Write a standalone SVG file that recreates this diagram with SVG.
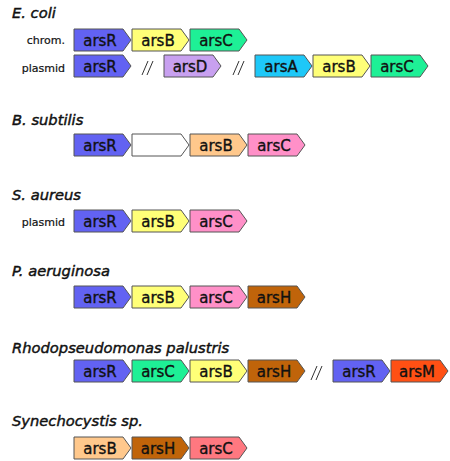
<svg xmlns="http://www.w3.org/2000/svg" width="450" height="461" viewBox="0 0 450 461">
<defs>
<style>
.g{stroke:#555;stroke-width:1}
.lbl{font-family:"DejaVu Sans",Verdana,sans-serif;font-size:15px;fill:#111;stroke:#111;stroke-width:0.35;text-anchor:middle}
.ttl{font-family:"DejaVu Sans",Verdana,sans-serif;font-size:14.7px;font-style:italic;fill:#111;stroke:#111;stroke-width:0.45}
.sm{font-family:"DejaVu Sans",Verdana,sans-serif;font-size:11px;fill:#111;stroke:#111;stroke-width:0.2;text-anchor:end}
.brk{stroke:#333;stroke-width:1;fill:none}
.R{fill:#6262f2}.B{fill:#ffff78}.Cg{fill:#1ef096}.D{fill:#c8a0f0}.A{fill:#1ec8f8}
.Bp{fill:#ffc88c}.Cp{fill:#ff90c8}.H{fill:#c0640a}.M{fill:#ff5014}.Cs{fill:#ff7880}.W{fill:#fff}
</style>
<polygon id="arrow" points="0,0 49,0 57,11 49,22 0,22"/>
</defs>
<rect width="450" height="461" fill="#fff"/>

<g id="titles">
<text class="ttl" x="12" y="18">E. coli</text>
<text class="ttl" x="12" y="125">B. subtilis</text>
<text class="ttl" x="12" y="200">S. aureus</text>
<text class="ttl" x="12" y="276">P. aeruginosa</text>
<text class="ttl" x="12" y="353">Rhodopseudomonas palustris</text>
<text class="ttl" x="12" y="426">Synechocystis sp.</text>
<text class="sm" x="65" y="44">chrom.</text>
<text class="sm" x="65" y="72">plasmid</text>
<text class="sm" x="65" y="226">plasmid</text>
</g>

<g id="connectors">
<path class="brk" d="M142,75 L148,61 M147,75 L153,61"/>
<path class="brk" d="M233,75 L239,61 M238,75 L244,61"/>
<path class="brk" d="M311,380 L317,366 M316,380 L322,366"/>
</g>

<!-- E. coli chromosome -->
<g id="ecoli-chr-arsR"><use href="#arrow" x="74" y="29" class="g R"/><text class="lbl" x="100" y="46">arsR</text></g>
<g id="ecoli-chr-arsB"><use href="#arrow" x="132" y="29" class="g B"/><text class="lbl" x="158" y="46">arsB</text></g>
<g id="ecoli-chr-arsC"><use href="#arrow" x="190" y="29" class="g Cg"/><text class="lbl" x="216" y="46">arsC</text></g>
<!-- E. coli plasmid -->
<g id="ecoli-pl-arsR"><use href="#arrow" x="74" y="55" class="g R"/><text class="lbl" x="100" y="72">arsR</text></g>
<g id="ecoli-pl-arsD"><use href="#arrow" x="164" y="55" class="g D"/><text class="lbl" x="190" y="72">arsD</text></g>
<g id="ecoli-pl-arsA"><use href="#arrow" x="255" y="55" class="g A"/><text class="lbl" x="281" y="72">arsA</text></g>
<g id="ecoli-pl-arsB"><use href="#arrow" x="313" y="55" class="g B"/><text class="lbl" x="339" y="72">arsB</text></g>
<g id="ecoli-pl-arsC"><use href="#arrow" x="371" y="55" class="g Cg"/><text class="lbl" x="397" y="72">arsC</text></g>

<!-- B. subtilis -->
<g id="bsub-arsR"><use href="#arrow" x="74" y="134" class="g R"/><text class="lbl" x="100" y="151">arsR</text></g>
<g id="bsub-blank"><use href="#arrow" x="132" y="134" class="g W"/></g>
<g id="bsub-arsB"><use href="#arrow" x="190" y="134" class="g Bp"/><text class="lbl" x="216" y="151">arsB</text></g>
<g id="bsub-arsC"><use href="#arrow" x="248" y="134" class="g Cp"/><text class="lbl" x="274" y="151">arsC</text></g>

<!-- S. aureus -->
<g id="saur-arsR"><use href="#arrow" x="74" y="210" class="g R"/><text class="lbl" x="100" y="227">arsR</text></g>
<g id="saur-arsB"><use href="#arrow" x="132" y="210" class="g B"/><text class="lbl" x="158" y="227">arsB</text></g>
<g id="saur-arsC"><use href="#arrow" x="190" y="210" class="g Cp"/><text class="lbl" x="216" y="227">arsC</text></g>

<!-- P. aeruginosa -->
<g id="paer-arsR"><use href="#arrow" x="74" y="286" class="g R"/><text class="lbl" x="100" y="303">arsR</text></g>
<g id="paer-arsB"><use href="#arrow" x="132" y="286" class="g B"/><text class="lbl" x="158" y="303">arsB</text></g>
<g id="paer-arsC"><use href="#arrow" x="190" y="286" class="g Cp"/><text class="lbl" x="216" y="303">arsC</text></g>
<g id="paer-arsH"><use href="#arrow" x="248" y="286" class="g H"/><text class="lbl" x="274" y="303">arsH</text></g>

<!-- Rhodopseudomonas palustris -->
<g id="rpal-arsR"><use href="#arrow" x="74" y="360" class="g R"/><text class="lbl" x="100" y="377">arsR</text></g>
<g id="rpal-arsC"><use href="#arrow" x="132" y="360" class="g Cg"/><text class="lbl" x="158" y="377">arsC</text></g>
<g id="rpal-arsB"><use href="#arrow" x="190" y="360" class="g B"/><text class="lbl" x="216" y="377">arsB</text></g>
<g id="rpal-arsH"><use href="#arrow" x="248" y="360" class="g H"/><text class="lbl" x="274" y="377">arsH</text></g>
<g id="rpal-arsR2"><use href="#arrow" x="333" y="360" class="g R"/><text class="lbl" x="359" y="377">arsR</text></g>
<g id="rpal-arsM"><use href="#arrow" x="391" y="360" class="g M"/><text class="lbl" x="417" y="377">arsM</text></g>

<!-- Synechocystis -->
<g id="syn-arsB"><use href="#arrow" x="74" y="437" class="g Bp"/><text class="lbl" x="100" y="454">arsB</text></g>
<g id="syn-arsH"><use href="#arrow" x="132" y="437" class="g H"/><text class="lbl" x="158" y="454">arsH</text></g>
<g id="syn-arsC"><use href="#arrow" x="190" y="437" class="g Cs"/><text class="lbl" x="216" y="454">arsC</text></g>
</svg>
